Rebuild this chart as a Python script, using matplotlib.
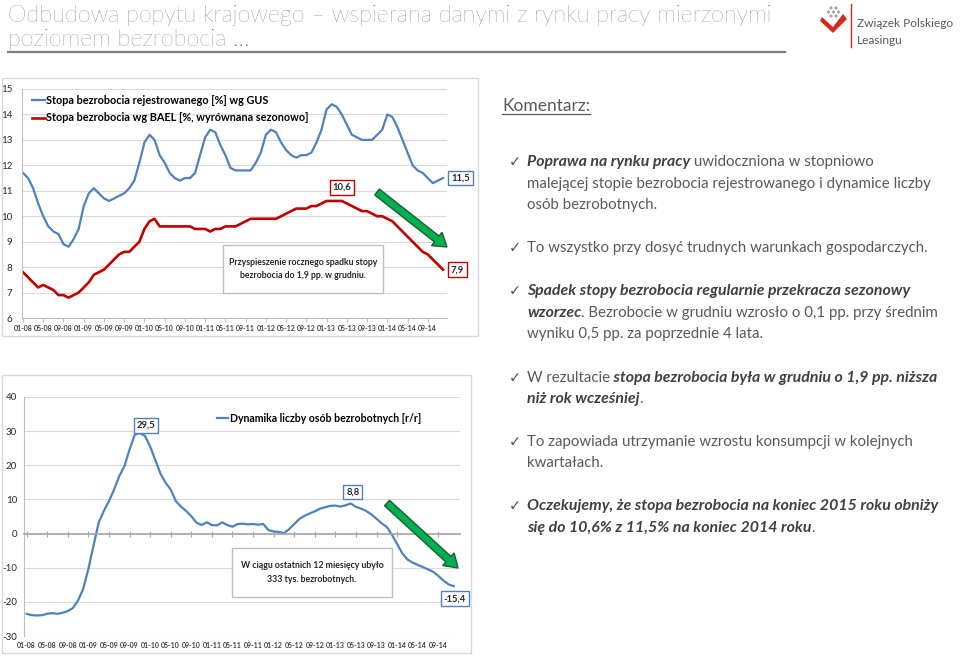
import matplotlib.pyplot as plt
from matplotlib.patches import FancyArrow, Rectangle, Polygon
from matplotlib.lines import Line2D

plt.rcParams['font.family'] = ['Lato', 'DejaVu Sans']
plt.rcParams['axes.unicode_minus'] = False

# dane, miesiące 01-08 ... 12-14
tick_labels = ['01-08', '05-08', '09-08', '01-09', '05-09', '09-09', '01-10', '05-10',
               '09-10', '01-11', '05-11', '09-11', '01-12', '05-12', '09-12', '01-13',
               '05-13', '09-13', '01-14', '05-14', '09-14']

rate_gus = [11.7, 11.5, 11.1, 10.5, 10.0, 9.6, 9.4, 9.3, 8.9, 8.8, 9.1, 9.5,
            10.4, 10.9, 11.1, 10.9, 10.7, 10.6, 10.7, 10.8, 10.9, 11.1, 11.4, 12.1,
            12.9, 13.2, 13.0, 12.4, 12.1, 11.7, 11.5, 11.4, 11.5, 11.5, 11.7, 12.4,
            13.1, 13.4, 13.3, 12.8, 12.4, 11.9, 11.8, 11.8, 11.8, 11.8, 12.1, 12.5,
            13.2, 13.4, 13.3, 12.9, 12.6, 12.4, 12.3, 12.4, 12.4, 12.5, 12.9, 13.4,
            14.2, 14.4, 14.3, 14.0, 13.6, 13.2, 13.1, 13.0, 13.0, 13.0, 13.2, 13.4,
            14.0, 13.9, 13.5, 13.0, 12.5, 12.0, 11.8, 11.7, 11.5, 11.3, 11.4, 11.5]

rate_bael = [7.8, 7.6, 7.4, 7.2, 7.3, 7.2, 7.1, 6.9, 6.9, 6.8, 6.9, 7.0,
             7.2, 7.4, 7.7, 7.8, 7.9, 8.1, 8.3, 8.5, 8.6, 8.6, 8.8, 9.0,
             9.5, 9.8, 9.9, 9.6, 9.6, 9.6, 9.6, 9.6, 9.6, 9.6, 9.5, 9.5,
             9.5, 9.4, 9.5, 9.5, 9.6, 9.6, 9.6, 9.7, 9.8, 9.9, 9.9, 9.9,
             9.9, 9.9, 9.9, 10.0, 10.1, 10.2, 10.3, 10.3, 10.3, 10.4, 10.4, 10.5,
             10.6, 10.6, 10.6, 10.6, 10.5, 10.4, 10.3, 10.2, 10.2, 10.1, 10.0, 10.0,
             9.9, 9.8, 9.6, 9.4, 9.2, 9.0, 8.8, 8.6, 8.5, 8.3, 8.1, 7.9]

unemployed_yoy = [-23.5, -23.9, -24.0, -23.9, -23.5, -23.3, -23.5, -23.2, -22.7, -21.8, -19.6, -16.2,
                  -10.4, -3.6, 3.2, 6.6, 9.5, 12.9, 16.8, 19.7, 24.6, 28.9, 29.5, 28.6,
                  25.5, 21.6, 17.6, 14.9, 12.9, 9.5, 7.9, 6.6, 5.1, 3.2, 2.5, 3.3,
                  2.5, 2.4, 3.3, 2.5, 2.0, 2.8, 2.9, 2.7, 2.8, 2.6, 2.8, 1.0,
                  0.6, 0.5, 0.1, 1.3, 2.8, 4.3, 5.2, 5.9, 6.5, 7.3, 7.7, 8.1,
                  8.2, 7.9, 8.3, 8.8, 7.8, 7.3, 6.6, 5.6, 4.3, 3.0, 1.9, -0.4,
                  -3.1, -5.8, -7.6, -8.5, -9.2, -9.8, -10.5, -11.2, -12.4, -13.8, -14.9, -15.4]

months = list(range(len(rate_gus)))
tick_pos = months[::4]

BLUE = '#4F81BD'
RED = '#C00000'
GRID = '#D9D9D9'
GRAY = '#595959'

W, H = 960, 656
fig = plt.figure(figsize=(W / 100, H / 100), dpi=100)
inch = fig.dpi_scale_trans


def ax_px(left, top, right, bottom):
    return fig.add_axes([left / W, 1 - bottom / H, (right - left) / W, (bottom - top) / H])


def px(x, y):
    return x / 100, (H - y) / 100


def fmt(v):
    return f'{v:.1f}'.replace('.', ',')


def label_box(ax, i, values, color, dx, dy, ha, va):
    ax.annotate(fmt(values[i]), (i, values[i]), xytext=(dx, dy), textcoords='offset pixels',
                ha=ha, va=va, fontsize=6.8, fontweight='bold', color='#262626',
                bbox=dict(boxstyle='square,pad=0.3', fc='white', ec=color, lw=1), zorder=5)


def info_box(x0, y0, x1, y1, text):
    fig.add_artist(Rectangle(px(x0, y1), (x1 - x0) / 100, (y1 - y0) / 100, transform=inch,
                             fc='white', ec='#BFBFBF', lw=1, zorder=4))
    fig.text(*px((x0 + x1) / 2, (y0 + y1) / 2), text, transform=inch, ha='center', va='center',
             fontsize=6.3, fontweight='bold', color='#262626', linespacing=1.6, zorder=5)


def green_arrow(x0, y0, x1, y1):
    fig.add_artist(FancyArrow(x0 / 100, (H - y0) / 100, (x1 - x0) / 100, -(y1 - y0) / 100,
                              width=0.075, head_width=0.17, head_length=0.13,
                              length_includes_head=True, transform=inch,
                              fc='#00B050', ec='#1E5E32', lw=1, zorder=6))


# ramki paneli
fig.add_artist(Rectangle(px(2, 336), 4.76, 2.58, transform=inch, fc='none', ec=GRID, lw=1))
fig.add_artist(Rectangle(px(2, 653), 4.69, 2.78, transform=inch, fc='none', ec=GRID, lw=1))

# --- wykres górny: stopa bezrobocia ---
ax1 = ax_px(22, 89, 447, 318)
ax1.plot(months, rate_gus, color=BLUE, lw=1.6, label='Stopa bezrobocia rejestrowanego [%] wg GUS')
ax1.plot(months, rate_bael, color=RED, lw=1.9, label='Stopa bezrobocia wg BAEL [%, wyrównana sezonowo]')
ax1.set_xlim(-0.2, 83.8)
ax1.set_ylim(6, 15)
ax1.set_yticks(range(6, 16))
ax1.grid(axis='y', color=GRID, lw=0.8)
ax1.set_axisbelow(True)
for s in ['top', 'right']:
    ax1.spines[s].set_visible(False)
ax1.spines['left'].set_color('#BFBFBF')
ax1.spines['bottom'].set_color('#BFBFBF')
ax1.set_xticks(tick_pos)
ax1.set_xticklabels(tick_labels, fontsize=5, fontweight='bold', color='#404040')
ax1.tick_params(axis='x', length=3, color='#BFBFBF', pad=2)
ax1.tick_params(axis='y', length=0, labelsize=7, pad=7, labelcolor='#262626')
ax1.legend(loc='upper left', bbox_to_anchor=(0.0, 1.017), frameon=False, handlelength=1.2,
           handletextpad=0.15, labelspacing=0.6, prop=dict(weight='bold', size=7.8))

label_box(ax1, 83, rate_gus, BLUE, 8, 0, 'left', 'center')
label_box(ax1, 63, rate_bael, RED, 0, 9, 'center', 'bottom')
label_box(ax1, 83, rate_bael, RED, 8, 0, 'left', 'center')

info_box(223, 245, 383, 293, 'Przyspieszenie rocznego spadku stopy\nbezrobocia do 1,9 pp. w grudniu.')
green_arrow(377, 192, 447, 247)

# --- wykres dolny: dynamika liczby bezrobotnych ---
ax2 = ax_px(24, 397, 460, 636)
ax2.plot(months, unemployed_yoy, color=BLUE, lw=1.6, label='Dynamika liczby osób bezrobotnych [r/r]')
ax2.set_xlim(-0.5, 84.2)
ax2.set_ylim(-30, 40)
ax2.set_yticks(range(-30, 41, 10))
ax2.grid(axis='y', color=GRID, lw=0.8)
ax2.set_axisbelow(True)
for s in ['top', 'right']:
    ax2.spines[s].set_visible(False)
ax2.spines['left'].set_color('#BFBFBF')
ax2.spines['bottom'].set_position(('data', 0))
ax2.spines['bottom'].set_color('#A6A6A6')
ax2.spines['bottom'].set_linewidth(1.2)
ax2.set_xticks(tick_pos)
ax2.tick_params(axis='x', direction='inout', length=5, color='#A6A6A6', labelbottom=False)
ax2.tick_params(axis='y', length=0, labelsize=7, pad=5, labelcolor='#262626')
sec = ax2.secondary_xaxis('bottom')
sec.set_xticks(tick_pos)
sec.set_xticklabels(tick_labels, fontsize=5, fontweight='bold', color='#404040')
sec.tick_params(length=0, pad=4)
sec.spines['bottom'].set_visible(False)
ax2.legend(loc='center left', bbox_to_anchor=(0.42, 0.912), frameon=False, handlelength=1.1,
           handletextpad=0.15, prop=dict(weight='bold', size=7.6))

i_max = unemployed_yoy.index(max(unemployed_yoy))
label_box(ax2, i_max, unemployed_yoy, BLUE, 6, 3, 'center', 'bottom')
label_box(ax2, 63, unemployed_yoy, BLUE, 2, 7, 'center', 'bottom')
label_box(ax2, 83, unemployed_yoy, BLUE, 1, -8, 'center', 'top')

info_box(232, 548, 392, 597, 'W ciągu ostatnich 12 miesięcy ubyło\n333 tys. bezrobotnych.')
green_arrow(387, 503, 458, 568)

# --- tytuł i logo ---
fig.text(*px(8, 22), 'Odbudowa popytu krajowego – wspierana danymi z rynku pracy mierzonymi',
         transform=inch, fontsize=16.9, fontweight='light', color='#4D4D4D', va='baseline')
fig.text(*px(8, 46), 'poziomem bezrobocia …', transform=inch, fontsize=16.9, fontweight='light',
         color='#4D4D4D', va='baseline')
fig.add_artist(Line2D([0.08, 7.85], [(H - 52) / 100] * 2, transform=inch, color='#7F7F7F', lw=1.6))

fig.add_artist(Polygon([px(822, 17), px(833, 27), px(843, 14), px(847, 19), px(833, 33), px(820, 21)],
                       closed=True, transform=inch, fc='#D52B1E', ec='none'))
for gx, gy in [(831, 8), (836, 8), (833.5, 12), (838.5, 12), (828.5, 12), (831, 16), (836, 16)]:
    fig.add_artist(Polygon([px(gx, gy - 2), px(gx + 2, gy), px(gx, gy + 2), px(gx - 2, gy)],
                           closed=True, transform=inch, fc='#A6A6A6', ec='none'))
fig.add_artist(Line2D([8.51, 8.51], [(H - 4) / 100, (H - 47) / 100], transform=inch, color='#D52B1E', lw=1))
fig.text(*px(857, 27), 'Związek Polskiego', transform=inch, fontsize=8.6, color=GRAY, va='baseline')
fig.text(*px(857, 44), 'Leasingu', transform=inch, fontsize=8.6, color=GRAY, va='baseline')

# --- komentarz ---
renderer = fig.canvas.get_renderer()
k = fig.text(*px(502, 111), 'Komentarz:', transform=inch, fontsize=12.5, color=GRAY, va='baseline')
kb = k.get_window_extent(renderer)
fig.add_artist(Line2D([5.02, 5.02 + kb.width / 100], [(H - 114) / 100] * 2, transform=inch,
                      color=GRAY, lw=0.9))

comment_lines = [
    (166, True, [('Poprawa na rynku pracy', 'bi'), (' uwidoczniona w stopniowo', 'r')]),
    (188, False, [('malejącej stopie bezrobocia rejestrowanego i dynamice liczby', 'r')]),
    (209, False, [('osób bezrobotnych.', 'r')]),
    (252, True, [('To wszystko przy dosyć trudnych warunkach gospodarczych.', 'r')]),
    (295, True, [('Spadek stopy bezrobocia regularnie przekracza sezonowy', 'bi')]),
    (317, False, [('wzorzec', 'bi'), ('. Bezrobocie w grudniu wzrosło o 0,1 pp. przy średnim', 'r')]),
    (338, False, [('wyniku 0,5 pp. za poprzednie 4 lata.', 'r')]),
    (382, True, [('W rezultacie', 'r'), (' stopa bezrobocia była w grudniu o 1,9 pp. niższa', 'bi')]),
    (403, False, [('niż rok wcześniej', 'bi'), ('.', 'r')]),
    (446, True, [('To zapowiada utrzymanie wzrostu konsumpcji w kolejnych', 'r')]),
    (467, False, [('kwartałach.', 'r')]),
    (510, True, [('Oczekujemy, że stopa bezrobocia na koniec 2015 roku obniży', 'bi')]),
    (532, False, [('się do 10,6% z 11,5% na koniec 2014 roku', 'bi'), ('.', 'r')]),
]

for y, bullet, parts in comment_lines:
    if bullet:
        fig.text(*px(509, y), '✓', transform=inch, fontsize=10.5, color=GRAY, va='baseline',
                 family='DejaVu Sans')
    x = 527
    for txt, style in parts:
        if style == 'bi':
            t = fig.text(*px(x, y), txt, transform=inch, fontsize=11.4, color='#404040',
                         fontweight='bold', fontstyle='italic', va='baseline')
        else:
            t = fig.text(*px(x, y), txt, transform=inch, fontsize=10.85, color=GRAY, va='baseline')
        x += t.get_window_extent(renderer).width

fig.savefig('out.png', dpi=100)
